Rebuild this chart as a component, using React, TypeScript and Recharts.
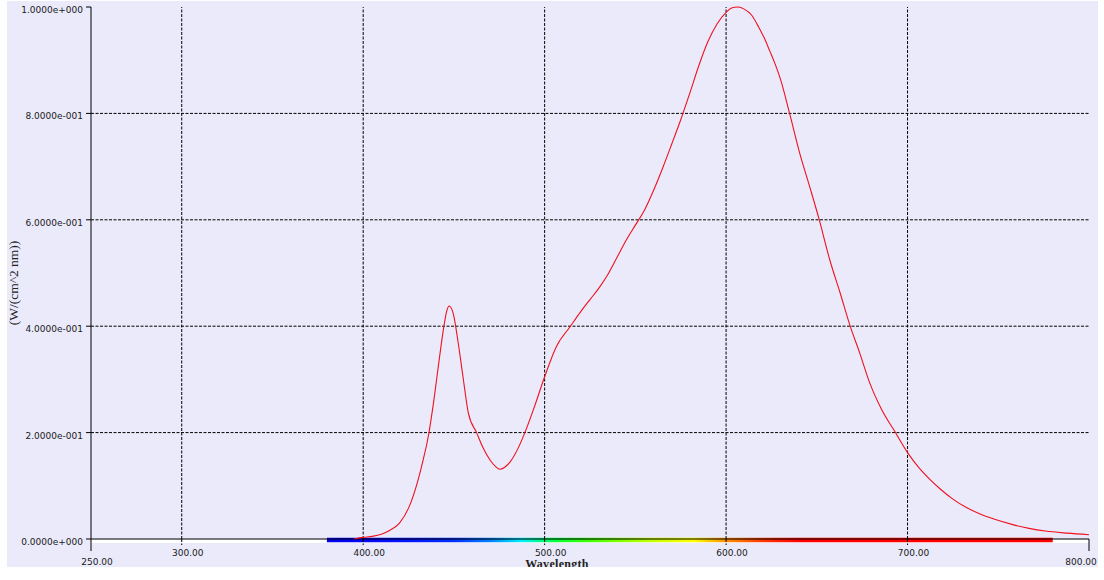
import { ComposedChart, Line, ReferenceArea, ReferenceLine, XAxis, YAxis } from "recharts";

// spectral irradiance, normalised
const wavelengths = [
  395, 400, 405, 410, 415, 420, 425, 430, 433, 436, 439, 442, 444.5, 446, 447.4, 449.6, 452.4, 455, 458,
  462.5, 466, 470, 473, 475.3, 478, 481, 485, 489, 494, 500, 506.5, 514, 520, 525, 530, 535, 540, 545, 550,
  555, 560, 565, 570, 575, 580, 585, 590, 595, 600, 603, 606.6, 610, 614, 618, 621, 624, 627, 630, 635,
  640.6, 646.1, 651.1, 657.2, 662.9, 668.2, 673.7, 679.2, 685.5, 693, 700.3, 706, 712, 718, 725, 732, 740,
  748, 758, 767, 776, 788, 800,
];
const irradiance = [
  0, 0.003, 0.005, 0.009, 0.017, 0.03, 0.058, 0.108, 0.148, 0.195, 0.262, 0.34, 0.4, 0.428, 0.438, 0.424,
  0.368, 0.305, 0.236, 0.2, 0.172, 0.148, 0.136, 0.131, 0.135, 0.145, 0.168, 0.199, 0.245, 0.305, 0.362,
  0.399, 0.428, 0.45, 0.472, 0.498, 0.53, 0.562, 0.59, 0.618, 0.655, 0.697, 0.742, 0.788, 0.838, 0.89,
  0.935, 0.968, 0.99, 0.998, 1.0, 0.996, 0.985, 0.962, 0.942, 0.918, 0.893, 0.864, 0.8, 0.725, 0.662, 0.603,
  0.524, 0.462, 0.402, 0.349, 0.293, 0.245, 0.202, 0.161, 0.135, 0.113, 0.094, 0.075, 0.06, 0.047, 0.037,
  0.027, 0.02, 0.015, 0.011, 0.008,
];

const xTicks = [250, 300, 400, 500, 600, 700, 800];
const yTicks = [0, 0.2, 0.4, 0.6, 0.8, 1.0];
const xGrid = [300, 400, 500, 600, 700];
const yGrid = [0.2, 0.4, 0.6, 0.8];
const visibleRange = [380, 780];

const spectrumStops: [number, string][] = [
  [380, "#0000f0"],
  [420, "#0010ff"],
  [450, "#0030ff"],
  [470, "#0080ff"],
  [487, "#00f0ff"],
  [505, "#00ff40"],
  [525, "#40ff00"],
  [560, "#c8ff00"],
  [582, "#ffff00"],
  [600, "#ff9000"],
  [620, "#ff3800"],
  [640, "#ff0000"],
  [780, "#ff0000"],
];

const data = wavelengths.map((nm, i) => ({ nm, value: irradiance[i] }));

const BG = "#eaeafa";
const FONT = "'DejaVu Sans', sans-serif";
const DASH = "3 1.5";

function sci(v: number) {
  if (v === 0) return "0.0000e+000";
  const e = Math.floor(Math.log10(v) + 1e-9);
  const m = v / Math.pow(10, e);
  return m.toFixed(4) + "e" + (e < 0 ? "-" : "+") + String(Math.abs(e)).padStart(3, "0");
}

function XTick({ x, y, payload }: any) {
  const v = payload.value;
  const edge = v === xTicks[0] || v === xTicks[xTicks.length - 1];
  const dx = v === xTicks[xTicks.length - 1] ? -8 : 6;
  return (
    <g>
      <line x1={x} x2={x} y1={y} y2={y + (edge ? 12 : 6)} stroke="#000" strokeDasharray={edge ? undefined : DASH} />
      <text x={x + dx} y={y + (edge ? 26 : 17)} textAnchor="middle" fontSize={9} fontFamily={FONT} fill="#1a1a1a">
        {v.toFixed(2)}
      </text>
    </g>
  );
}

function YTick({ x, y, payload }: any) {
  return (
    <g>
      <line x1={x - 5} x2={x} y1={y} y2={y} stroke="#000" />
      <text x={x - 8} y={y + 6} textAnchor="end" fontSize={9} fontFamily={FONT} fill="#1a1a1a">
        {sci(payload.value)}
      </text>
    </g>
  );
}

export default function App() {
  const [lo, hi] = visibleRange;
  return (
    <div style={{ position: "absolute", left: 0, top: 0, width: 1104, height: 580, background: "#fff" }}>
      <div style={{ position: "absolute", left: 7, top: 1, width: 1091, height: 566, background: BG }} />
      <ComposedChart
        width={1104}
        height={580}
        data={data}
        margin={{ top: 7, right: 15, left: 11, bottom: 0 }}
        style={{ position: "absolute", left: 0, top: 0 }}
      >
        <defs>
          <linearGradient id="spectrum" x1="0" y1="0" x2="1" y2="0">
            {spectrumStops.map(([nm, c]) => (
              <stop key={nm} offset={(nm - lo) / (hi - lo)} stopColor={c} />
            ))}
          </linearGradient>
        </defs>
        <XAxis
          dataKey="nm"
          type="number"
          domain={[250, 800]}
          ticks={xTicks}
          interval={0}
          height={41}
          axisLine={false}
          tickLine={false}
          tickSize={0}
          tickMargin={0}
          tick={(p: any) => <XTick {...p} />}
        />
        <YAxis
          type="number"
          domain={[0, 1]}
          ticks={yTicks}
          interval={0}
          width={80}
          axisLine={{ stroke: "#000" }}
          tickLine={false}
          tickSize={0}
          tickMargin={0}
          tick={(p: any) => <YTick {...p} />}
        />
        {xGrid.map((v) => (
          <ReferenceLine key={"x" + v} x={v} stroke="#000" strokeDasharray={DASH} />
        ))}
        {yGrid.map((v) => (
          <ReferenceLine key={"y" + v} y={v} stroke="#000" strokeDasharray={DASH} />
        ))}
        <ReferenceLine y={0} stroke="#000" />
        <ReferenceArea x1={250} x2={800} y1={-0.0075} y2={-0.001} fill="#fff" fillOpacity={1} ifOverflow="visible" />
        <ReferenceArea
          x1={lo}
          x2={hi}
          y1={-0.0062}
          y2={0.0024}
          fill="url(#spectrum)"
          fillOpacity={1}
          ifOverflow="visible"
        />
        <Line
          dataKey="value"
          type="monotone"
          stroke="#f0101e"
          strokeWidth={1.1}
          dot={false}
          isAnimationActive={false}
        />
      </ComposedChart>
      <svg width={1104} height={580} style={{ position: "absolute", left: 0, top: 0, pointerEvents: "none" }}>
        <text
          x={13}
          y={283}
          transform="rotate(-90 13 283)"
          textAnchor="middle"
          dominantBaseline="central"
          fontSize={13.5}
          fontFamily="'Liberation Serif', serif"
          fill="#222"
        >
          (W/(cm^2 nm))
        </text>
        <text
          x={557}
          y={568}
          textAnchor="middle"
          fontSize={12}
          fontWeight="bold"
          fontFamily="'Liberation Serif', serif"
          fill="#222"
          letterSpacing={0.3}
        >
          Wavelength
        </text>
        <rect x={0} y={567} width={1104} height={13} fill="#fff" />
      </svg>
    </div>
  );
}
